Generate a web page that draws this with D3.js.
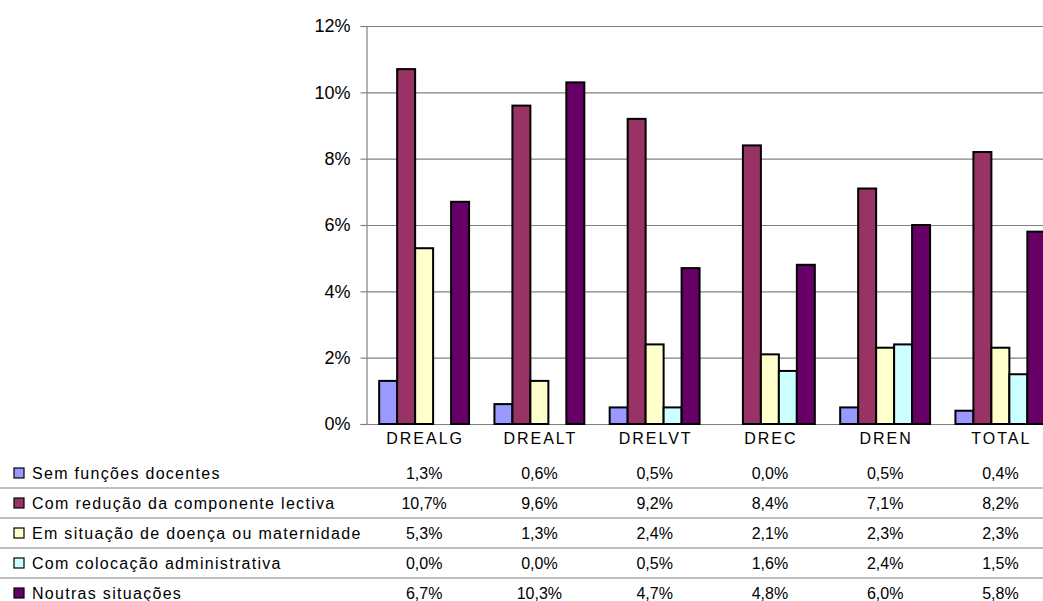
<!DOCTYPE html>
<html>
<head>
<meta charset="utf-8">
<script src="https://cdn.jsdelivr.net/npm/d3@7"></script>
<style>
  body { margin: 0; background: #fff; }
  svg { display: block; font-family: "Liberation Sans", Arial, sans-serif; }
</style>
</head>
<body>
<div class="chart"></div>
<script>
const categories = ["DREALG", "DREALT", "DRELVT", "DREC", "DREN", "TOTAL"];
const seriesNames = [
  "Sem funções docentes",
  "Com redução da componente lectiva",
  "Em situação de doença ou maternidade",
  "Com colocação administrativa",
  "Noutras situações",
];
const semFuncoes = [1.3, 0.6, 0.5, 0.0, 0.5, 0.4];
const comReducao = [10.7, 9.6, 9.2, 8.4, 7.1, 8.2];
const doencaMaternidade = [5.3, 1.3, 2.4, 2.1, 2.3, 2.3];
const colocacaoAdmin = [0.0, 0.0, 0.5, 1.6, 2.4, 1.5];
const noutras = [6.7, 10.3, 4.7, 4.8, 6.0, 5.8];
const yTicks = [0, 2, 4, 6, 8, 10, 12];

const seriesValues = [semFuncoes, comReducao, doencaMaternidade, colocacaoAdmin, noutras];
const colors = ["#9999ff", "#993366", "#ffffcc", "#ccffff", "#660066"];

const width = 1043;
const height = 601;
const plotLeft = 366.5;
const plotRight = 1058;
const plotTop = 26;
const plotBottom = 424;

const svg = d3
  .select(".chart")
  .append("svg")
  .attr("width", width)
  .attr("height", height);

const x0 = d3
  .scaleBand()
  .domain(categories)
  .range([plotLeft, plotRight])
  .paddingInner(0.22)
  .paddingOuter(0.11);

const x1 = d3
  .scaleBand()
  .domain(d3.range(seriesNames.length))
  .range([0, x0.bandwidth()]);

const y = d3.scaleLinear().domain([0, 12]).range([plotBottom, plotTop]);

// gridlines
const grid = svg
  .append("g")
  .attr("transform", `translate(${plotLeft},0)`)
  .call(d3.axisLeft(y).tickValues(yTicks).tickSize(-(plotRight - plotLeft)).tickFormat(""));
grid.select(".domain").remove();
grid.selectAll("line").attr("stroke", "#808080").attr("stroke-width", 1.2);

// y axis
const yAxis = svg
  .append("g")
  .attr("transform", `translate(${plotLeft},0)`)
  .call(d3.axisLeft(y).tickValues(yTicks).tickSize(6).tickPadding(10).tickFormat((d) => d + "%"));
yAxis.select(".domain").attr("stroke", "#808080").attr("stroke-width", 1.2);
yAxis.selectAll("line").attr("stroke", "#808080").attr("stroke-width", 1.2);
yAxis.selectAll("text").attr("font-size", "18px").attr("fill", "#000");

// bars
const groups = svg
  .selectAll(".cat")
  .data(categories)
  .enter()
  .append("g")
  .attr("class", "cat")
  .attr("transform", (d) => `translate(${x0(d)},0)`);

groups
  .selectAll("rect")
  .data((d, ci) =>
    seriesValues.map((vals, si) => ({ si, v: vals[ci] })).filter((b) => b.v > 0)
  )
  .enter()
  .append("rect")
  .attr("x", (d) => x1(d.si))
  .attr("y", (d) => y(d.v))
  .attr("width", x1.bandwidth())
  .attr("height", (d) => y(0) - y(d.v))
  .attr("fill", (d) => colors[d.si])
  .attr("stroke", "#000")
  .attr("stroke-width", 2);

// category labels
svg
  .selectAll(".catlabel")
  .data(categories)
  .enter()
  .append("text")
  .attr("x", (d) => x0(d) + x0.bandwidth() / 2 + 1)
  .attr("y", 444)
  .attr("text-anchor", "middle")
  .attr("font-size", "16px")
  .attr("letter-spacing", "2px")
  .text((d) => d);

// data table
const rowY = d3.scaleBand().domain(d3.range(seriesNames.length)).range([458, 608]);

svg
  .selectAll(".rowline")
  .data(d3.range(1, seriesNames.length))
  .enter()
  .append("line")
  .attr("x1", 0)
  .attr("x2", width)
  .attr("y1", (d) => rowY(d))
  .attr("y2", (d) => rowY(d))
  .attr("stroke", "#808080")
  .attr("stroke-width", 1.2);

const rows = svg
  .selectAll(".row")
  .data(seriesNames)
  .enter()
  .append("g")
  .attr("class", "row")
  .attr("transform", (d, i) => `translate(0,${rowY(i) + rowY.bandwidth() / 2})`);

rows
  .append("rect")
  .attr("x", 14)
  .attr("y", -5)
  .attr("width", 10)
  .attr("height", 10)
  .attr("fill", (d, i) => colors[i])
  .attr("stroke", "#000")
  .attr("stroke-width", 1.2);

rows
  .append("text")
  .attr("x", 32)
  .attr("dy", "0.35em")
  .attr("font-size", "16px")
  .attr("letter-spacing", "1.3px")
  .text((d) => d);

rows
  .selectAll(".val")
  .data((d, i) => seriesValues[i].map((v, ci) => ({ v, c: categories[ci] })))
  .enter()
  .append("text")
  .attr("x", (d) => x0(d.c) + x0.bandwidth() / 2)
  .attr("dy", "0.35em")
  .attr("text-anchor", "middle")
  .attr("font-size", "16px")
  .text((d) => d.v.toFixed(1).replace(".", ",") + "%");
</script>
</body>
</html>
